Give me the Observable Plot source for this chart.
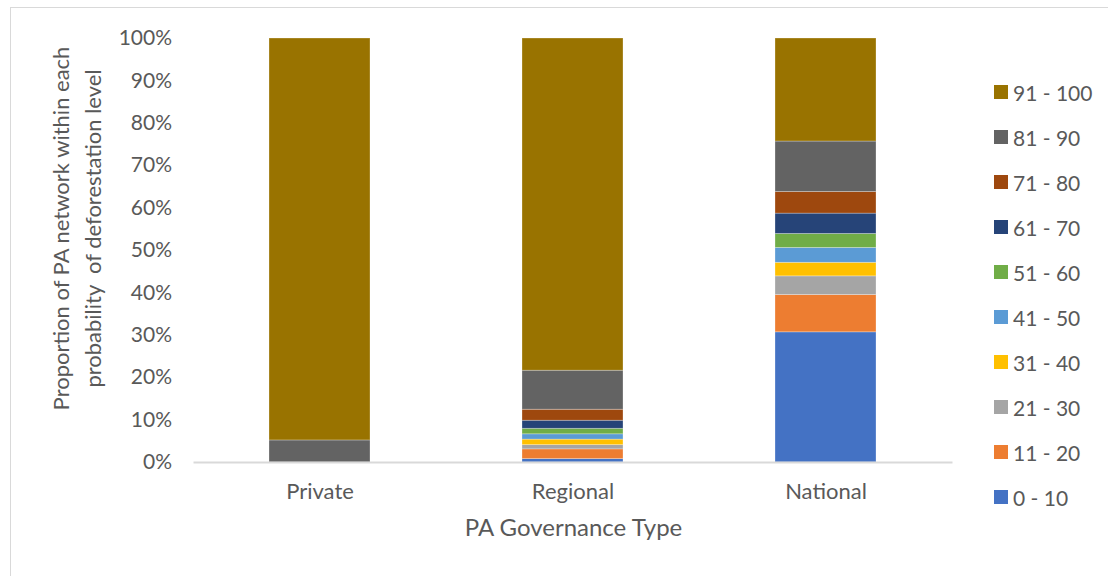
<!DOCTYPE html>
<html>
<head>
<meta charset="utf-8">
<script src="https://cdn.jsdelivr.net/npm/d3@7"></script>
<script src="https://cdn.jsdelivr.net/npm/@observablehq/plot@0.6"></script>
<style>
  html, body { margin: 0; padding: 0; background: #fff; }
  body { width: 1108px; height: 576px; position: relative; overflow: hidden; font-family: Lato, "Open Sans", sans-serif; }
  #border { position: absolute; left: 10px; top: 7px; width: 1200px; height: 600px; border: 1.5px solid #d9d9d9; box-sizing: border-box; }
  #chart { position: absolute; left: 0; top: 0; }
  #legend { position: absolute; left: 994px; top: 0; }
  .li { position: absolute; left: 0; display: flex; align-items: center; white-space: nowrap; font-size: 21px; color: #595959; }
  .sw { width: 14px; height: 14px; margin-right: 5px; }
</style>
</head>
<body>
<div id="border"></div>
<div id="chart"></div>
<div id="legend"></div>
<script>
const categories = ["Private", "Regional", "National"];
const seriesNames = ["0 - 10", "11 - 20", "21 - 30", "31 - 40", "41 - 50", "51 - 60", "61 - 70", "71 - 80", "81 - 90", "91 - 100"];
const seriesColors = ["#4472C4", "#ED7D31", "#A5A5A5", "#FFC000", "#5B9BD5", "#70AD47", "#264478", "#9E480E", "#636363", "#997300"];
// percentages per category, in series order (0-10 ... 91-100)
const privateValues  = [0, 0, 0, 0, 0, 0, 0, 0, 5.2, 94.8];
const regionalValues = [0.8, 2.3, 1.0, 1.3, 1.25, 1.3, 1.9, 2.6, 9.2, 78.35];
const nationalValues = [30.7, 8.8, 4.4, 3.2, 3.5, 3.3, 4.8, 5.1, 11.9, 24.3];
const yTicks = [0, 0.1, 0.2, 0.3, 0.4, 0.5, 0.6, 0.7, 0.8, 0.9, 1.0];

const valuesByCat = { Private: privateValues, Regional: regionalValues, National: nationalValues };
const data = [];
for (let s = 0; s < seriesNames.length; s++) {
  for (const c of categories) {
    data.push({ cat: c, series: seriesNames[s], value: valuesByCat[c][s] / 100 });
  }
}

const textColor = "#595959";
const chart = Plot.plot({
  width: 1108,
  height: 576,
  marginLeft: 193.5,
  marginRight: 155.5,
  marginTop: 38,
  marginBottom: 114,
  style: { fontFamily: "Lato, 'Open Sans', sans-serif", fontSize: "21px", color: textColor, background: "transparent" },
  x: { domain: categories, paddingInner: 0.6, paddingOuter: 0.3, label: null, tickSize: 0, tickPadding: 21 },
  y: { domain: [0, 1], ticks: yTicks, tickFormat: d3.format(".0%"), label: null, tickSize: 0, tickPadding: 22 },
  color: { domain: seriesNames, range: seriesColors },
  marks: [
    Plot.barY(data, { x: "cat", y: "value", fill: "series", stroke: "white", strokeOpacity: 0.35, strokeWidth: 0.8 }),
    Plot.ruleY([0], { stroke: "#d9d9d9", strokeWidth: 2 }),
    Plot.axisX({ tickSize: 0, tickPadding: 21, fontSize: 22, label: null }),
    Plot.text(["PA Governance Type"], { frameAnchor: "bottom", dy: 73, text: d => d, fill: textColor, fontSize: 24 }),
    Plot.text(["Proportion of PA network within each\nprobability  of deforestation level"], {
      frameAnchor: "left", textAnchor: "middle", lineAnchor: "middle", text: d => d, rotate: -90,
      dx: -119, dy: -22, lineHeight: 1.45, fill: textColor, fontSize: 22
    })
  ]
});
document.getElementById("chart").appendChild(chart);

const legend = document.getElementById("legend");
const rowTop = 92, rowStep = 45;
seriesNames.slice().reverse().forEach((name, i) => {
  const color = seriesColors[seriesNames.length - 1 - i];
  const row = document.createElement("div");
  row.className = "li";
  row.style.top = (rowTop + i * rowStep - 13) + "px";
  row.style.height = "26px";
  const sw = document.createElement("div");
  sw.className = "sw";
  sw.style.background = color;
  const t = document.createElement("span");
  t.textContent = name;
  row.appendChild(sw);
  row.appendChild(t);
  legend.appendChild(row);
});
</script>
</body>
</html>
